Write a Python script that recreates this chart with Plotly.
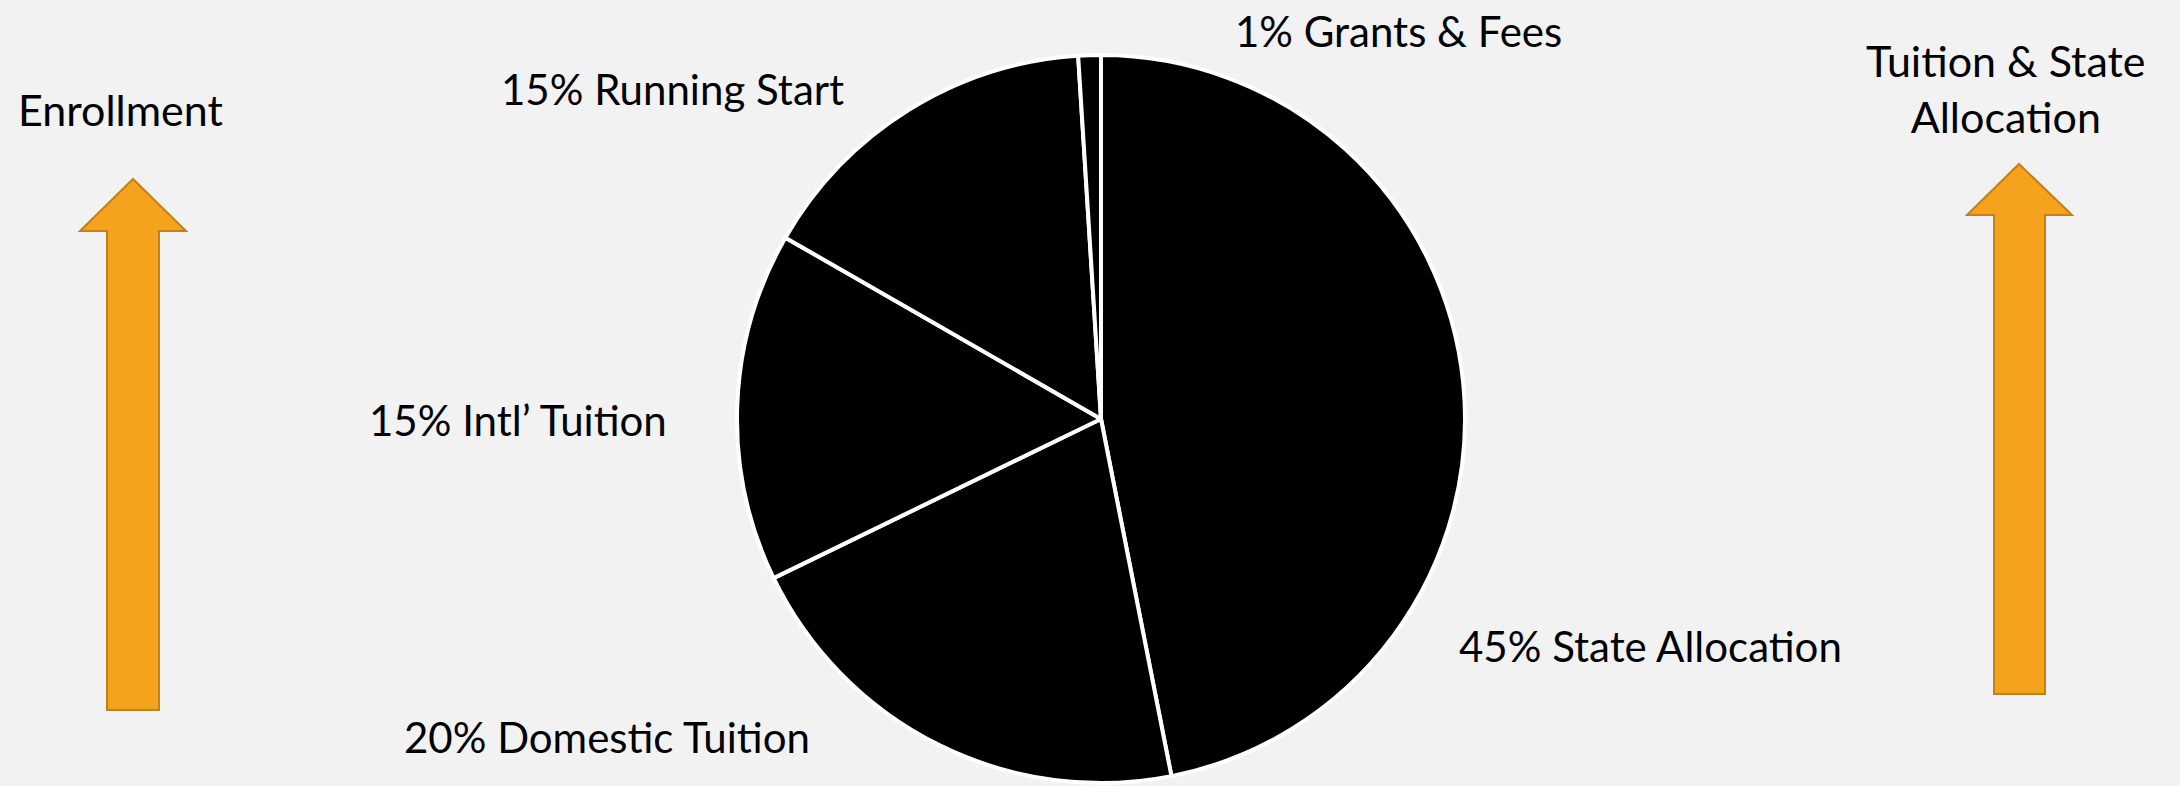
import plotly.graph_objects as go

W, H = 2180, 786

# ---- data ----
categories = ["State Allocation", "Domestic Tuition", "Intl' Tuition", "Running Start", "Grants & Fees"]
shares = [46.9, 20.9, 15.5, 15.7, 1.0]
label_texts = ["45% State Allocation", "20% Domestic Tuition", "15% Intl\u2019 Tuition",
               "15% Running Start", "1% Grants & Fees"]
side_titles = ["Enrollment", "Tuition & State<br>Allocation"]

# ---- layout helpers (pixel -> paper) ----
def px(x):
    return x / W

def py(y):
    return 1 - y / H

FONT = "Lato, 'Open Sans', sans-serif"
BG = "#f2f2f2"

fig = go.Figure()
fig.add_trace(go.Pie(
    labels=categories,
    values=shares,
    sort=False,
    direction="clockwise",
    rotation=0,
    textinfo="none",
    hoverinfo="label+percent",
    marker=dict(colors=["#000000"] * len(categories), line=dict(color="#ffffff", width=4)),
    domain=dict(x=[px(737), px(1465)], y=[py(783), py(55)]),
    showlegend=False,
))

# slice labels (label text, centre position in px)
label_pos = [(1650, 646), (607, 737), (518, 420), (672, 89), (1398, 31)]
annotations = []
for txt, (x, y) in zip(label_texts, label_pos):
    annotations.append(dict(text=txt, x=px(x), y=py(y), xref="paper", yref="paper",
                            xanchor="center", yanchor="middle", showarrow=False,
                            font=dict(family=FONT, size=42, color="#000000")))

side_pos = [(120, 110), (2006, 88)]
for txt, (x, y) in zip(side_titles, side_pos):
    annotations.append(dict(text=txt, x=px(x), y=py(y), xref="paper", yref="paper",
                            xanchor="center", yanchor="middle", showarrow=False,
                            font=dict(family=FONT, size=43, color="#000000")))

# block arrows
def arrow_path(tip_x, tip_y, head_l, head_r, base_y, shaft_l, shaft_r, bottom):
    pts = [(tip_x, tip_y), (head_r, base_y), (shaft_r, base_y), (shaft_r, bottom),
           (shaft_l, bottom), (shaft_l, base_y), (head_l, base_y)]
    return "M " + " L ".join(f"{px(a):.5f},{py(b):.5f}" for a, b in pts) + " Z"

shapes = []
for spec in [(133, 179, 80, 186, 231, 107, 159, 710),
             (2019, 164, 1967, 2072, 215, 1994, 2045, 694)]:
    shapes.append(dict(type="path", path=arrow_path(*spec), xref="paper", yref="paper",
                       fillcolor="#F5A31F", line=dict(color="#C0801A", width=2)))

fig.update_layout(
    width=W, height=H,
    margin=dict(l=0, r=0, t=0, b=0),
    paper_bgcolor=BG, plot_bgcolor=BG,
    annotations=annotations,
    shapes=shapes,
)

fig.write_html("out.html")
